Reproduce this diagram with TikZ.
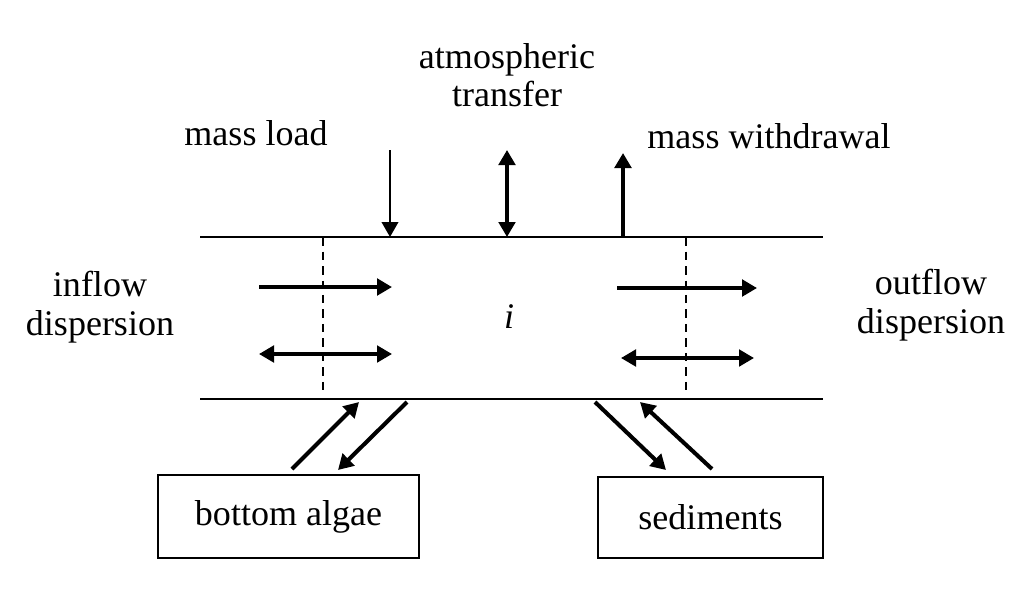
\documentclass[tikz,border=0pt]{standalone}
\usepackage{fontspec}
\setmainfont{Liberation Serif}
\usetikzlibrary{arrows.meta}

\begin{document}
\begin{tikzpicture}[
  x=0.02cm, y=-0.02cm,
  font=\fontsize{20.5}{22}\selectfont,
  oneway/.style={line width=#1, -{Triangle[length=0.3cm,width=0.33cm]}},
  twoway/.style={line width=#1, {Triangle[length=0.3cm,width=0.33cm]}-{Triangle[length=0.3cm,width=0.33cm]}},
  compartment/.style={draw, line width=1.1pt, inner sep=0pt}
]
\useasboundingbox (0,0) rectangle (1024,593);

% reach i
\coordinate (topW) at (200,237);
\coordinate (topE) at (823,237);
\coordinate (botW) at (200,399);
\coordinate (botE) at (823,399);
\draw[line width=0.9pt] (topW) -- (topE);
\draw[line width=0.9pt] (botW) -- (botE);

\coordinate (cutW1) at (323,237);
\coordinate (cutW2) at (323,396);
\coordinate (cutE1) at (686,237);
\coordinate (cutE2) at (686,396);
\draw[dashed, dash pattern=on 0.17cm off 0.12cm, line width=1.1pt] (cutW1) -- (cutW2);
\draw[dashed, dash pattern=on 0.17cm off 0.12cm, line width=1.1pt] (cutE1) -- (cutE2);

\node (reach) at (509,317) {\textit{i}};

% top exchanges
\node (load) at (256,133) {mass load};
\node[align=center] (atmo) at (507,75) {atmospheric\\transfer};
\node (withdraw) at (769,136) {mass withdrawal};

\coordinate (loadA) at (390,150);
\coordinate (loadB) at (390,237);
\coordinate (atmoA) at (507,150);
\coordinate (atmoB) at (507,237);
\coordinate (wdA) at (623,237);
\coordinate (wdB) at (623,153);
\draw[oneway=1.3pt] (loadA) -- (loadB);
\draw[twoway=2pt] (atmoA) -- (atmoB);
\draw[oneway=2.3pt] (wdA) -- (wdB);

% upstream / downstream
\node[align=center] (inflow) at (100,307) {inflow\\dispersion};
\node[align=center] (outflow) at (931,305) {outflow\\dispersion};

\coordinate (inA) at (259,287);
\coordinate (inB) at (392,287);
\coordinate (dinA) at (259,354);
\coordinate (dinB) at (392,354);
\coordinate (outA) at (617,288);
\coordinate (outB) at (757,288);
\coordinate (doutA) at (621,358);
\coordinate (doutB) at (754,358);
\draw[oneway=2.3pt] (inA) -- (inB);
\draw[twoway=2pt] (dinA) -- (dinB);
\draw[oneway=2.3pt] (outA) -- (outB);
\draw[twoway=2pt] (doutA) -- (doutB);

% bottom compartments
\node[compartment, minimum width=5.22cm, minimum height=1.66cm] (algae) at (288.5,516.5) {bottom algae};
\node[compartment, minimum width=4.5cm, minimum height=1.62cm] (sediments) at (710.5,517.5) {sediments};

\coordinate (alUp1) at (292,469);
\coordinate (alUp2) at (359,402);
\coordinate (alDn1) at (407,402);
\coordinate (alDn2) at (338,470);
\coordinate (seDn1) at (595,402);
\coordinate (seDn2) at (666,470);
\coordinate (seUp1) at (712,469);
\coordinate (seUp2) at (640,402);
\draw[oneway=2.3pt] (alUp1) -- (alUp2);
\draw[oneway=2.3pt] (alDn1) -- (alDn2);
\draw[oneway=2.3pt] (seDn1) -- (seDn2);
\draw[oneway=2.3pt] (seUp1) -- (seUp2);
\end{tikzpicture}
\end{document}
